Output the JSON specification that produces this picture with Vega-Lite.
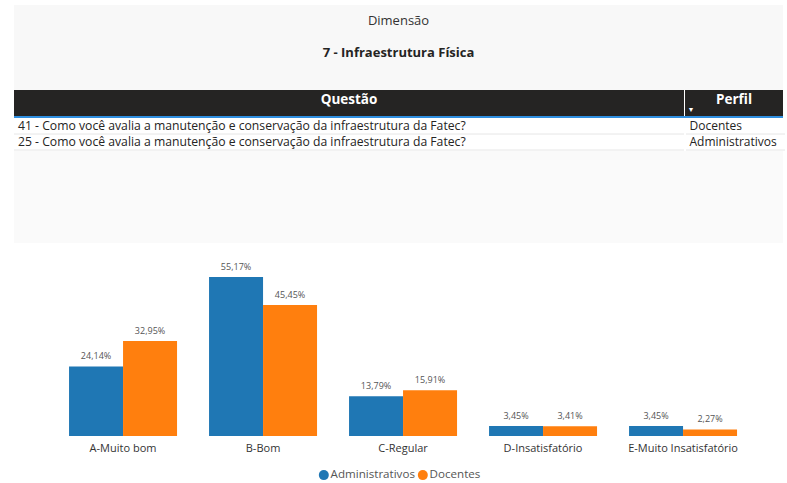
{
  "$schema": "https://vega.github.io/schema/vega-lite/v6.json",
  "padding": {"left": 13, "top": 5, "right": 5, "bottom": 0},
  "background": "white",
  "spacing": 0,
  "config": {
    "view": {"stroke": null},
    "font": "Open Sans",
    "concat": {"spacing": 0},
    "legend": {"layout": {"bottom": {"anchor": "middle"}}},
    "locale": {"number": {"decimal": ",", "thousands": ".", "grouping": [3], "currency": ["R$", ""]}}
  },
  "datasets": {
    "titulo": [
      {"texto": "Dimensão", "tipo": "rotulo"},
      {"texto": "7 - Infraestrutura Física", "tipo": "valor"}
    ],
    "tabela": [
      {"Questão": "41 - Como você avalia a manutenção e conservação da infraestrutura da Fatec?", "Perfil": "Docentes"},
      {"Questão": "25 - Como você avalia a manutenção e conservação da infraestrutura da Fatec?", "Perfil": "Administrativos"}
    ],
    "cabecalho": [{"coluna": "Questão"}],
    "cabecalho2": [{"coluna": "Perfil"}],
    "respostas": [
      {"Resposta": "A-Muito bom", "Perfil": "Administrativos", "Percentual": 0.2414},
      {"Resposta": "A-Muito bom", "Perfil": "Docentes", "Percentual": 0.3295},
      {"Resposta": "B-Bom", "Perfil": "Administrativos", "Percentual": 0.5517},
      {"Resposta": "B-Bom", "Perfil": "Docentes", "Percentual": 0.4545},
      {"Resposta": "C-Regular", "Perfil": "Administrativos", "Percentual": 0.1379},
      {"Resposta": "C-Regular", "Perfil": "Docentes", "Percentual": 0.1591},
      {"Resposta": "D-Insatisfatório", "Perfil": "Administrativos", "Percentual": 0.0345},
      {"Resposta": "D-Insatisfatório", "Perfil": "Docentes", "Percentual": 0.0341},
      {"Resposta": "E-Muito Insatisfatório", "Perfil": "Administrativos", "Percentual": 0.0345},
      {"Resposta": "E-Muito Insatisfatório", "Perfil": "Docentes", "Percentual": 0.0227}
    ]
  },
  "vconcat": [
    {
      "width": 769,
      "height": 85,
      "view": {"fill": "#f8f8f8", "stroke": null},
      "data": {"name": "titulo"},
      "encoding": {
        "y": {"field": "texto", "type": "nominal", "sort": null, "axis": null,
              "scale": {"type": "band", "domain": ["Dimensão", "7 - Infraestrutura Física"], "paddingInner": 0, "paddingOuter": 0.328, "align": 0}}
      },
      "layer": [
        {"transform": [{"filter": "datum.tipo === 'rotulo'"}],
         "mark": {"type": "text", "fontSize": 13, "color": "#333333", "baseline": "middle", "font": "Open Sans"},
         "encoding": {"text": {"field": "texto"}}},
        {"transform": [{"filter": "datum.tipo === 'valor'"}],
         "mark": {"type": "text", "fontSize": 13, "fontWeight": "bold", "color": "#252423", "baseline": "middle", "font": "Open Sans"},
         "encoding": {"text": {"field": "texto"}}}
      ]
    },
    {
      "spacing": 1,
      "hconcat": [
        {
          "width": 670, "height": 26,
          "view": {"fill": "#252423", "stroke": null},
          "data": {"name": "cabecalho"},
          "mark": {"type": "text", "color": "white", "fontWeight": "bold", "fontSize": 13.5, "dy": -3, "baseline": "middle"},
          "encoding": {"text": {"field": "coluna"}}
        },
        {
          "width": 98, "height": 26,
          "view": {"fill": "#252423", "stroke": null},
          "data": {"name": "cabecalho2"},
          "layer": [
            {"mark": {"type": "text", "color": "white", "fontWeight": "bold", "fontSize": 13.5, "dy": -3, "baseline": "middle"},
             "encoding": {"text": {"field": "coluna"}}},
            {"mark": {"type": "text", "color": "white", "fontSize": 7, "dx": -43, "dy": 7, "baseline": "middle", "align": "center"},
             "encoding": {"text": {"value": "▼"}}}
          ]
        }
      ]
    },
    {
      "width": 769, "height": 2,
      "view": {"fill": "#2f8fe0", "stroke": null},
      "data": {"values": []},
      "mark": "rect",
      "encoding": {}
    },
    {
      "spacing": 0,
      "hconcat": [
        {
          "width": 670, "height": 32,
          "view": {"fill": "white", "stroke": null},
          "data": {"name": "tabela"},
          "encoding": {
            "y": {"field": "Questão", "type": "nominal", "sort": null, "axis": null,
                  "scale": {"type": "band", "paddingInner": 0, "paddingOuter": 0}}
          },
          "layer": [
            {"mark": {"type": "rule", "color": "#e6e6e6", "strokeWidth": 1}, "encoding": {"y": {"field": "Questão", "type": "nominal", "sort": null, "bandPosition": 1}}},
            {"mark": {"type": "text", "align": "left", "baseline": "middle", "dx": -331, "fontSize": 12.2, "color": "#252423"},
             "encoding": {"text": {"field": "Questão"}}}
          ]
        },
        {
          "width": 99, "height": 32,
          "view": {"fill": "white", "stroke": null},
          "data": {"name": "tabela"},
          "encoding": {
            "y": {"field": "Questão", "type": "nominal", "sort": null, "axis": null,
                  "scale": {"type": "band", "paddingInner": 0, "paddingOuter": 0}}
          },
          "layer": [
            {"mark": {"type": "rule", "color": "#e6e6e6", "strokeWidth": 1}, "encoding": {"y": {"field": "Questão", "type": "nominal", "sort": null, "bandPosition": 1}}},
            {"mark": {"type": "text", "align": "left", "baseline": "middle", "dx": -46, "fontSize": 12, "color": "#252423"},
             "encoding": {"text": {"field": "Perfil"}}}
          ]
        }
      ]
    },
    {
      "width": 769, "height": 92,
      "view": {"fill": "#fafafa", "stroke": null},
      "data": {"values": []},
      "mark": "rect",
      "encoding": {}
    },
    {
      "width": 769, "height": 193,
      "data": {"name": "respostas"},
      "encoding": {
        "x": {"field": "Resposta", "type": "nominal",
              "scale": {"paddingInner": 0.2286, "paddingOuter": 0.3607, "align": 0.545},
              "axis": {"title": null, "labelAngle": 0, "domain": false, "ticks": false, "labelPadding": 6,
                       "labelFontSize": 11, "labelColor": "#333333", "labelFont": "Open Sans"}},
        "xOffset": {"field": "Perfil", "type": "nominal", "sort": ["Administrativos", "Docentes"],
                    "scale": {"paddingInner": 0, "paddingOuter": 0}},
        "y": {"field": "Percentual", "type": "quantitative", "scale": {"domain": [0, 0.67]}, "axis": null}
      },
      "layer": [
        {"mark": {"type": "bar"},
         "encoding": {
           "color": {"field": "Perfil", "type": "nominal",
                     "scale": {"domain": ["Administrativos", "Docentes"], "range": ["#1f77b4", "#ff7f0e"]},
                     "legend": {"orient": "bottom", "title": null, "symbolType": "circle", "symbolSize": 100,
                                "labelFontSize": 11.6, "labelColor": "#555555", "labelFont": "Open Sans",
                                "columnPadding": 2, "labelOffset": 1, "offset": 16, "padding": 0, "symbolStrokeWidth": 0}}
         }},
        {"mark": {"type": "text", "dy": -10, "fontSize": 9, "color": "#555555", "font": "Open Sans"},
         "encoding": {"text": {"field": "Percentual", "type": "quantitative", "format": ".2%"}}}
      ]
    }
  ]
}
